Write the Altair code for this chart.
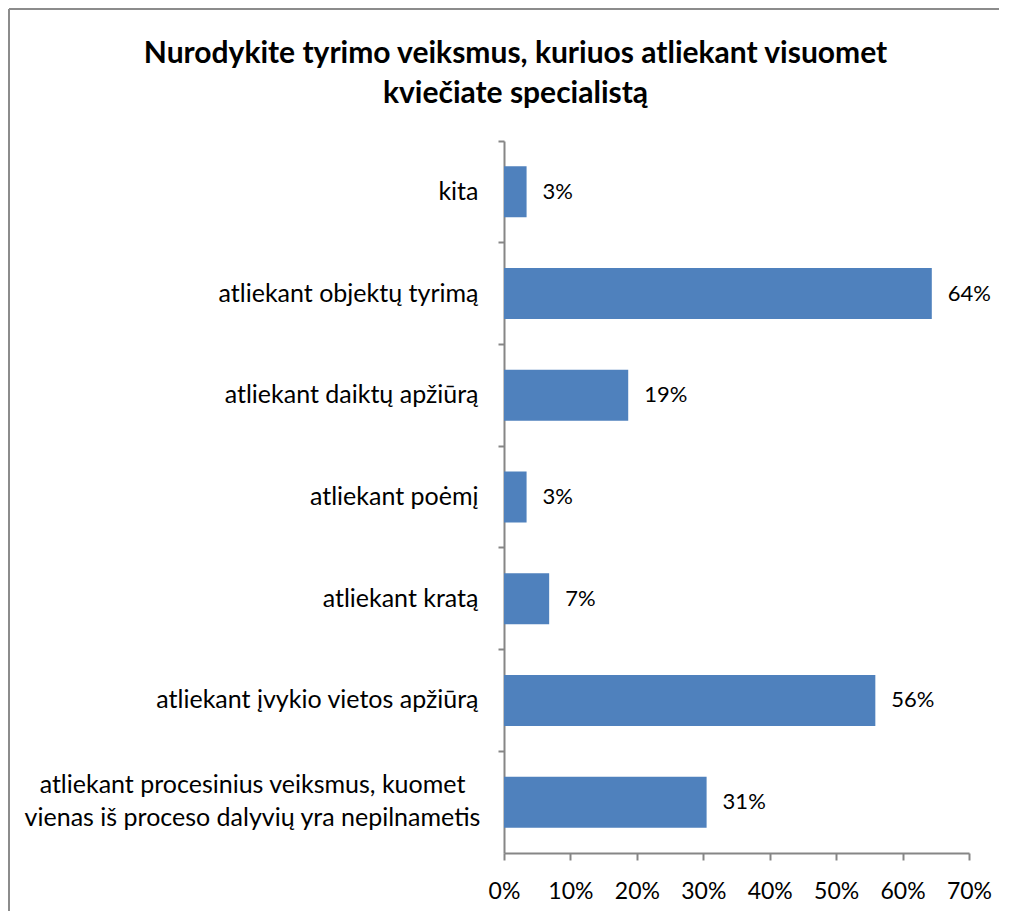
import altair as alt
import pandas as pd

categories = [
    "kita",
    "atliekant objektų tyrimą",
    "atliekant daiktų apžiūrą",
    "atliekant poėmį",
    "atliekant kratą",
    "atliekant įvykio vietos apžiūrą",
    "atliekant procesinius veiksmus, kuomet|vienas iš proceso dalyvių yra nepilnametis",
]
values = [0.034, 0.644, 0.187, 0.034, 0.068, 0.559, 0.305]
labels = ["3%", "64%", "19%", "3%", "7%", "56%", "31%"]

df = pd.DataFrame({"cat": categories, "val": values, "lab": labels})

FONT = "Lato"
BLUE = "#4F81BD"
GRAY = "#868686"
MULTI = "indexof(datum.value, '|') >= 0"

y_enc = alt.Y(
    "cat:N",
    sort=None,
    title=None,
    scale=alt.Scale(paddingInner=0, paddingOuter=0),
    axis=alt.Axis(
        bandPosition=0,
        labelExpr="split(datum.label, '|')",
        labelFontSize=25,
        labelFont=FONT,
        labelColor="#000000",
        labelLineHeight=33,
        labelPadding=alt.condition(MULTI, alt.value(246), alt.value(20)),
        labelAlign=alt.condition(MULTI, alt.value("center"), alt.value("right")),
        labelOffset=alt.condition(MULTI, alt.value(-17), alt.value(0)),
        tickSize=6,
        tickColor=GRAY,
        domainColor=GRAY,
        domainWidth=2,
        tickWidth=2,
        labelLimit=600,
    ),
)

x_enc = alt.X(
    "val:Q",
    title=None,
    scale=alt.Scale(domain=[0, 0.7], nice=False),
    axis=alt.Axis(
        format=".0%",
        values=[0, 0.1, 0.2, 0.3, 0.4, 0.5, 0.6, 0.7],
        grid=False,
        labelFontSize=23,
        labelFont=FONT,
        labelColor="#000000",
        tickSize=7,
        tickColor=GRAY,
        domainColor=GRAY,
        domainWidth=2,
        tickWidth=2,
        labelPadding=20,
        labelFlush=False,
    ),
)

bars = alt.Chart(df).mark_bar(color=BLUE, size=51).encode(x=x_enc, y=y_enc)

text = alt.Chart(df).mark_text(
    align="left", baseline="middle", dx=16, fontSize=22, font=FONT, color="#000000"
).encode(x="val:Q", y=alt.Y("cat:N", sort=None), text="lab:N")

# chart frame (top and left edges visible in the reference)
frame_left = alt.Chart(df).mark_rule(color="#8c8c8c", strokeWidth=2, clip=False).encode(
    x=alt.value(-495), y=alt.value(-132), y2=alt.value(900)
)
frame_top = alt.Chart(df).mark_rule(color="#8c8c8c", strokeWidth=2, clip=False).encode(
    y=alt.value(-132), x=alt.value(-495), x2=alt.value(800)
)

chart = (
    alt.layer(frame_left, frame_top, bars, text)
    .properties(
        width=465,
        height=712,
        autosize=alt.AutoSizeParams(type="none"),
        padding={"left": 496, "top": 133, "right": 30, "bottom": 58},
        title=alt.Title(
            text=[
                "Nurodykite tyrimo veiksmus, kuriuos atliekant visuomet",
                "kviečiate specialistą",
            ],
            font=FONT,
            fontSize=30,
            fontWeight="bold",
            color="#000000",
            lineHeight=40,
            anchor="middle",
            frame="group",
            dx=-221,
            offset=-101,
        ),
    )
    .configure_view(stroke=None)
)

chart.save("out.html", embed_options={"renderer": "svg", "actions": False})
